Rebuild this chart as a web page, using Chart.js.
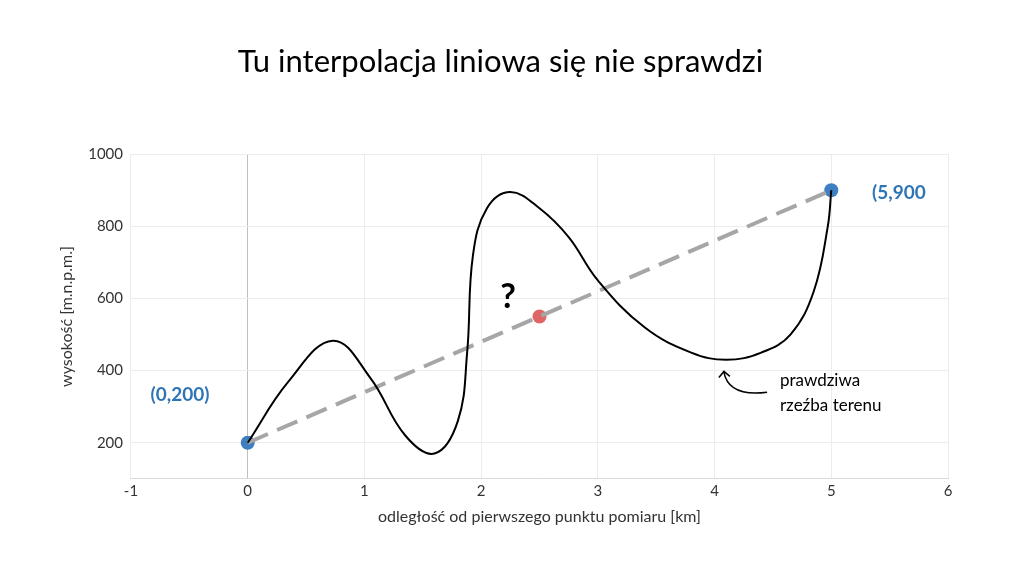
<!DOCTYPE html>
<html><head><meta charset="utf-8">
<script src="https://cdn.jsdelivr.net/npm/chart.js@4"></script>
<style>body{margin:0;background:#fff}#w{width:1024px;height:566px}</style></head>
<body><div id="w"><canvas id="c"></canvas></div>
<script>
const terrainX=[0,0.35,0.73,1.05,1.35,1.6,1.8,1.88,1.93,2.05,2.25,2.5,2.75,3.0,3.4,3.8,4.1,4.4,4.65,4.85,4.97,5];
const terrainY=[200,370,483,380,220,170,260,450,720,850,895,850,770,650,520,450,430,450,500,620,800,900];
const lineX=[0,5], lineY=[200,900];
const endX=[0,5], endY=[200,900];
const midX=[2.5], midY=[550];
const yTicks=[200,400,600,800,1000];
const F="Lato, 'Open Sans', sans-serif";
const pts=(xs,ys)=>xs.map((x,i)=>({x,y:ys[i]}));
const annot={id:'annot',afterDatasetsDraw(ch){
 const c=ch.ctx,xs=ch.scales.x,ys=ch.scales.y;
 const P=(x,y)=>[xs.getPixelForValue(x),ys.getPixelForValue(y)];
 c.save();
 c.font="bold 19px "+F;c.fillStyle='#2e75b6';c.textAlign='center';c.textBaseline='middle';
 let p=P(-0.58,332);c.fillText('(0,200)',p[0],p[1]);
 p=P(5.58,893);c.fillText('(5,900',p[0],p[1]);
 c.fillStyle='#000';c.font="bold 34px "+F;p=P(2.23,605);c.fillText('?',p[0],p[1]);
 c.font="17px "+F;c.textAlign='left';p=P(4.56,372);c.fillText('prawdziwa',p[0],p[1]);
 p=P(4.56,302);c.fillText('rzeźba terenu',p[0],p[1]);
 const a=P(4.45,340),b=P(4.08,395);
 c.strokeStyle='#000';c.lineWidth=1.5;c.beginPath();c.moveTo(a[0],a[1]);
 c.quadraticCurveTo(b[0]+5,a[1]+5,b[0],b[1]);c.stroke();
 c.beginPath();c.moveTo(b[0]-5,b[1]+5);c.lineTo(b[0],b[1]-1);c.lineTo(b[0]+6,b[1]+4);c.stroke();
 c.restore();}};
new Chart(document.getElementById('c'),{type:'scatter',
data:{datasets:[
 {data:pts(terrainX,terrainY),showLine:true,tension:0.4,borderColor:'#000',borderWidth:2,pointRadius:0},
 {data:pts(lineX,lineY),showLine:true,borderColor:'#a6a6a6',borderWidth:4,borderDash:[22,10],pointRadius:0},
 {data:pts(endX,endY),pointRadius:7,backgroundColor:'#3f7fc1',borderWidth:0},
 {data:pts(midX,midY),pointRadius:7,backgroundColor:'#e06666',borderWidth:0}]},
options:{responsive:true,maintainAspectRatio:false,animation:false,
 layout:{padding:{left:53,right:76,top:10,bottom:36}},
 plugins:{legend:{display:false},tooltip:{enabled:false},
  title:{display:true,text:'Tu interpolacja liniowa się nie sprawdzi',color:'#000',font:{family:F,size:31,weight:'normal'},padding:{top:33,bottom:74}}},
 scales:{
  x:{type:'linear',min:-1,max:6,ticks:{stepSize:1,color:'#333',font:{family:F,size:15}},
   grid:{color:c=>c.tick.value===0?'#bfbfbf':'#ececec',drawTicks:false},border:{color:'#d9d9d9'},
   title:{display:true,text:'odległość od pierwszego punktu pomiaru [km]',color:'#333',font:{family:F,size:16}}},
  y:{min:100,max:1000,afterBuildTicks:a=>{a.ticks=yTicks.map(v=>({value:v}))},
   ticks:{color:'#333',font:{family:F,size:15},padding:8,callback:v=>String(v)},
   grid:{color:'#ececec',drawTicks:false},border:{display:false},
   title:{display:true,text:'wysokość [m.n.p.m.]',color:'#333',font:{family:F,size:16}}}}},
plugins:[annot]});
</script></body></html>
